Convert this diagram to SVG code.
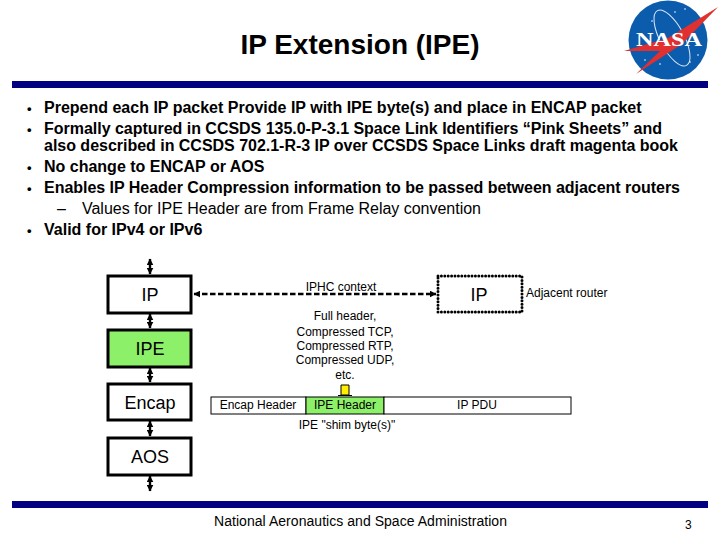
<svg xmlns="http://www.w3.org/2000/svg" width="720" height="540" viewBox="0 0 720 540">
<style>
text{font-family:"Liberation Sans",Arial,sans-serif;fill:#000}
.b{font-size:16px;font-weight:bold}
.d{font-size:13px;font-weight:bold}
.s{font-size:12px}
.c{text-anchor:middle}
.n{font-size:18px;text-anchor:middle}
.box{fill:#fff;stroke:#000;stroke-width:3}
.g{fill:#8cf068}
.rule{fill:#000080}
.conn{stroke:#000;stroke-width:2.4;fill:none;marker-start:url(#ah);marker-end:url(#ah)}
</style>
<defs>
<marker id="ah" markerUnits="userSpaceOnUse" markerWidth="7" markerHeight="7" refX="5.5" refY="3" orient="auto-start-reverse" viewBox="0 0 6 6"><path d="M0 0L6 3L0 6Z" fill="#000"/></marker>
</defs>
<rect width="720" height="540" fill="#fff"/>
<text x="360" y="54" class="c" style="font-size:28px;font-weight:bold">IP Extension (IPE)</text>
<g id="nasa-logo">
<circle cx="668" cy="40" r="39.5" fill="#0b5cad"/>
<ellipse cx="672" cy="38" rx="31" ry="12" transform="rotate(62 672 38)" fill="none" stroke="#dfe8f5" stroke-width="1"/>
<g fill="#fff"><circle cx="652" cy="21" r=".8"/><circle cx="685" cy="9" r=".8"/><circle cx="675" cy="12" r=".8"/><circle cx="645" cy="60" r=".8"/><circle cx="690" cy="62" r=".8"/><circle cx="698" cy="55" r=".8"/><circle cx="660" cy="64" r=".8"/></g>
<path d="M624 51L668 38L718 7L682 44L636 74L660 51Z" fill="#e03030"/>
<text x="669" y="46" class="c" textLength="66" lengthAdjust="spacingAndGlyphs" style="font-family:'Liberation Serif',serif;font-size:19px;font-weight:bold;fill:#fff">NASA</text>
</g>
<rect class="rule" x="12" y="81" width="696" height="7"/>
<rect class="rule" x="12" y="501" width="696" height="7"/>
<g id="bullets" class="b">
<text class="d" x="27" y="113">•</text><text x="44" y="113">Prepend each IP packet Provide IP with IPE byte(s) and place in ENCAP packet</text>
<text class="d" x="27" y="134">•</text><text x="44" y="134" textLength="618">Formally captured in CCSDS 135.0-P-3.1 Space Link Identifiers “Pink Sheets” and</text>
<text x="44" y="151" textLength="634">also described in CCSDS 702.1-R-3 IP over CCSDS Space Links draft magenta book</text>
<text class="d" x="27" y="172">•</text><text x="44" y="172">No change to ENCAP or AOS</text>
<text class="d" x="27" y="193">•</text><text x="44" y="193" textLength="636">Enables IP Header Compression information to be passed between adjacent routers</text>
<text x="57" y="214" style="font-weight:normal">–</text><text x="82" y="214" style="font-weight:normal" textLength="399">Values for IPE Header are from Frame Relay convention</text>
<text class="d" x="27" y="235">•</text><text x="44" y="235">Valid for IPv4 or IPv6</text>
</g>
<g id="connectors">
<line class="conn" x1="150" y1="259" x2="150" y2="274"/>
<line class="conn" x1="150" y1="314" x2="150" y2="328"/>
<line class="conn" x1="150" y1="368" x2="150" y2="382"/>
<line class="conn" x1="150" y1="421" x2="150" y2="436"/>
<line class="conn" x1="150" y1="476" x2="150" y2="491"/>
<line class="conn" x1="194" y1="294" x2="436" y2="294" stroke-dasharray="5.5 2.5"/>
</g>
<g id="ip"><rect class="box" x="108" y="276" width="83" height="37"/><text x="150" y="301" class="n">IP</text></g>
<g id="ipe"><rect class="box g" x="108" y="330" width="83" height="37"/><text x="150" y="355" class="n">IPE</text></g>
<g id="encap"><rect class="box" x="108" y="384" width="83" height="36"/><text x="150" y="409" class="n">Encap</text></g>
<g id="aos"><rect class="box" x="108" y="438" width="83" height="37"/><text x="150" y="463" class="n">AOS</text></g>
<g id="adjacent-ip"><rect x="438" y="276" width="84" height="36" fill="#fff" stroke="#000" stroke-width="3" stroke-linecap="round" stroke-dasharray="0 3.4"/><text x="479" y="301" class="n">IP</text></g>
<text x="341" y="291" class="s c">IPHC context</text>
<text x="526" y="297" class="s">Adjacent router</text>
<g id="types" class="s c">
<text x="345" y="320">Full header,</text>
<text x="345" y="336">Compressed TCP,</text>
<text x="345" y="350">Compressed RTP,</text>
<text x="345" y="364">Compressed UDP,</text>
<text x="345" y="379">etc.</text>
</g>
<g id="shim"><path d="M341 395V385H349V395Z" fill="#ffee00" stroke="#000"/><path d="M338 395.5H352" stroke="#000"/></g>
<g id="packet">
<rect x="211" y="397" width="95" height="17" fill="#fff" stroke="#000"/>
<rect x="306" y="397" width="78" height="17" class="g" stroke="#000"/>
<rect x="384" y="397" width="187" height="17" fill="#fff" stroke="#000"/>
<text x="258" y="409" class="s c">Encap Header</text>
<text x="345" y="409" class="s c">IPE Header</text>
<text x="477" y="409" class="s c">IP PDU</text>
</g>
<text x="347" y="429" class="s c">IPE "shim byte(s)"</text>
<text x="214" y="526" style="font-size:14px" textLength="293">National Aeronautics and Space Administration</text>
<text x="685" y="529" class="s">3</text>
</svg>
